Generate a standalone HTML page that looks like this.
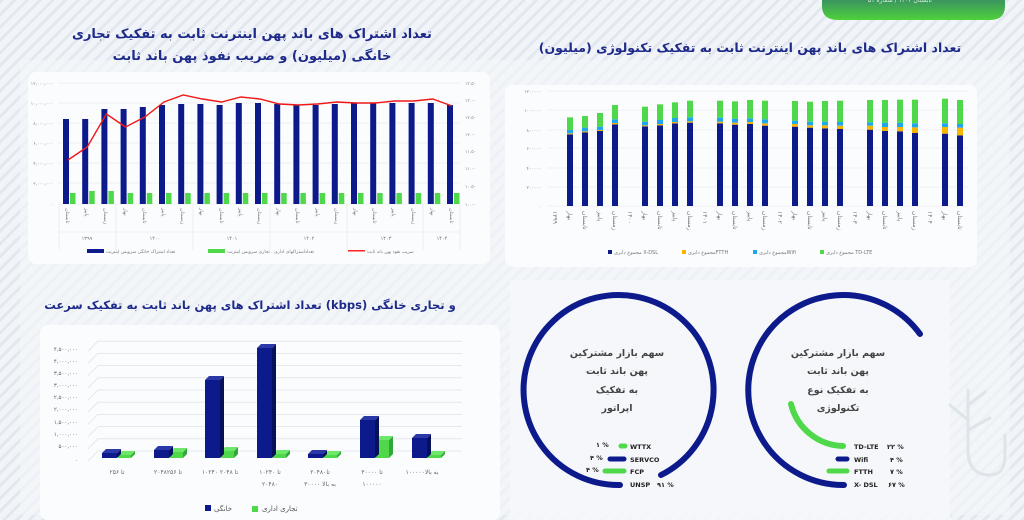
<!DOCTYPE html>
<html><head><meta charset="utf-8"><style>
html,body{margin:0;padding:0;width:1024px;height:520px;overflow:hidden;background:#f1f4f8}
svg{display:block;font-family:"DejaVu Sans","Liberation Sans",sans-serif}
</style></head><body>
<svg id="s" width="1024" height="520" viewBox="0 0 1024 520" xmlns="http://www.w3.org/2000/svg">
<defs>
<pattern id="st" width="9" height="9" patternUnits="userSpaceOnUse" patternTransform="rotate(45)">
<rect width="9" height="9" fill="#f1f4f8"/><rect width="3" height="9" fill="#e3e8ef"/></pattern>
<linearGradient id="tab" x1="0" y1="0" x2="0" y2="1"><stop offset="0" stop-color="#3a9560"/><stop offset="1" stop-color="#4fd13a"/></linearGradient>
</defs>
<rect width="1024" height="520" fill="url(#st)"/>
<rect x="20" y="60" width="990" height="455" fill="#f4f6f9" opacity="0.6"/>
<rect x="28" y="72" width="462" height="192" rx="8" fill="#fbfcfd"/>
<rect x="505" y="85" width="472" height="182" rx="8" fill="#fbfcfd"/>
<rect x="40" y="325" width="460" height="195" rx="8" fill="#fbfcfd"/>
<rect x="510" y="280" width="440" height="240" fill="#f6f8fa" opacity="0.8"/>
<path d="M822 0 H1005 V6 Q1005 20 990 20 H838 Q822 20 822 6Z" fill="url(#tab)"/>
<text x="900" y="2" font-size="6" fill="#d8f0d8" text-anchor="middle">تابستان ۱۴۰۴ / شماره ۵۱</text>

<g font-weight="bold" fill="#1e2a8a" text-anchor="middle">
<text x="252" y="38" font-size="13">تعداد اشتراک های باند پهن اینترنت ثابت به تفکیک تجاری</text>
<text x="252" y="60" font-size="13">خانگی (میلیون) و ضریب نفوذ پهن باند ثابت</text>
<text x="750" y="52" font-size="12.5">تعداد اشتراک های باند پهن اینترنت ثابت به تفکیک تکنولوژی (میلیون)</text>
<text x="250" y="309" font-size="11.5">تعداد اشتراک های پهن باند ثابت به تفکیک سرعت (kbps) و تجاری خانگی</text>
</g>
<g stroke="#e2e5ea" stroke-width="0.6">
<line x1="58" x2="460" y1="83" y2="83"/><line x1="58" x2="460" y1="103" y2="103"/><line x1="58" x2="460" y1="123" y2="123"/><line x1="58" x2="460" y1="143" y2="143"/><line x1="58" x2="460" y1="163" y2="163"/><line x1="58" x2="460" y1="183" y2="183"/><line x1="58" x2="460" y1="204" y2="204"/>
<line x1="59" x2="59" y1="204" y2="250"/><line x1="116" x2="116" y1="204" y2="250"/><line x1="193" x2="193" y1="204" y2="250"/><line x1="270" x2="270" y1="204" y2="250"/><line x1="347" x2="347" y1="204" y2="250"/><line x1="423" x2="423" y1="204" y2="250"/><line x1="460" x2="460" y1="204" y2="250"/>
<line x1="59" x2="460" y1="232" y2="232"/>
</g>
<g font-size="4.5" fill="#888" text-anchor="end">
<text x="53" y="85">۱۲,۰۰۰,۰۰۰</text><text x="53" y="105">۱۰,۰۰۰,۰۰۰</text><text x="53" y="125">۸,۰۰۰,۰۰۰</text><text x="53" y="145">۶,۰۰۰,۰۰۰</text><text x="53" y="165">۴,۰۰۰,۰۰۰</text><text x="53" y="185">۲,۰۰۰,۰۰۰</text><text x="53" y="206">۰</text>
</g>
<g font-size="4.5" fill="#888">
<text x="465" y="85">۱۳.۵۰</text><text x="465" y="102">۱۳.۰۰</text><text x="465" y="119">۱۲.۵۰</text><text x="465" y="136">۱۲.۰۰</text><text x="465" y="153">۱۱.۵۰</text><text x="465" y="170">۱۱.۰۰</text><text x="465" y="188">۱۰.۵۰</text><text x="465" y="206">۱۰.۰۰</text>
</g>
<g id="c1"></g>
<g font-size="5" fill="#777">
<text transform="translate(66,208) rotate(90)">تابستان</text>
<text transform="translate(85,208) rotate(90)">پاییز</text>
<text transform="translate(104,208) rotate(90)">زمستان</text>
<text transform="translate(124,208) rotate(90)">بهار</text>
<text transform="translate(143,208) rotate(90)">تابستان</text>
<text transform="translate(162,208) rotate(90)">پاییز</text>
<text transform="translate(181,208) rotate(90)">زمستان</text>
<text transform="translate(200,208) rotate(90)">بهار</text>
<text transform="translate(220,208) rotate(90)">تابستان</text>
<text transform="translate(239,208) rotate(90)">پاییز</text>
<text transform="translate(258,208) rotate(90)">زمستان</text>
<text transform="translate(277,208) rotate(90)">بهار</text>
<text transform="translate(296,208) rotate(90)">تابستان</text>
<text transform="translate(316,208) rotate(90)">پاییز</text>
<text transform="translate(335,208) rotate(90)">زمستان</text>
<text transform="translate(354,208) rotate(90)">بهار</text>
<text transform="translate(373,208) rotate(90)">تابستان</text>
<text transform="translate(392,208) rotate(90)">پاییز</text>
<text transform="translate(412,208) rotate(90)">زمستان</text>
<text transform="translate(431,208) rotate(90)">بهار</text>
<text transform="translate(450,208) rotate(90)">تابستان</text>
</g>
<g font-size="5" fill="#777" text-anchor="middle">
<text x="87" y="240">۱۳۹۹</text><text x="155" y="240">۱۴۰۰</text><text x="232" y="240">۱۴۰۱</text><text x="309" y="240">۱۴۰۲</text><text x="386" y="240">۱۴۰۳</text><text x="442" y="240">۱۴۰۴</text>
</g>
<rect x="87" y="249" width="17" height="4" fill="#0d1a8c"/><text x="106" y="253" font-size="4.5" fill="#777">تعداد اشتراک خانگی سرویس اینترنت</text>
<rect x="208" y="249" width="17" height="4" fill="#4fd84a"/><text x="227" y="253" font-size="4.5" fill="#777">تعداداشتراکهای اداری . تجاری سرویس اینترنت</text>
<rect x="348" y="250" width="17" height="1.5" fill="#f22"/><text x="367" y="253" font-size="4.5" fill="#777">ضریب نفوذ پهن باند ثابت</text>

<g stroke="#e2e5ea" stroke-width="0.6">
<line x1="548" x2="968" y1="91" y2="91"/><line x1="548" x2="968" y1="110" y2="110"/><line x1="548" x2="968" y1="130" y2="130"/><line x1="548" x2="968" y1="148" y2="148"/><line x1="548" x2="968" y1="168" y2="168"/><line x1="548" x2="968" y1="187" y2="187"/><line x1="548" x2="968" y1="206" y2="206"/>
</g>
<g font-size="4.5" fill="#888" text-anchor="end">
<text x="541" y="93">۱۲۰۰۰۰۰</text><text x="541" y="112">۱۰۰۰۰۰۰</text><text x="541" y="132">۸۰۰۰۰۰</text><text x="541" y="150">۶۰۰۰۰۰</text><text x="541" y="170">۴۰۰۰۰۰</text><text x="541" y="189">۲۰۰۰۰۰</text><text x="541" y="208">۰</text>
</g>
<g id="c2"></g>
<g font-size="6" fill="#777">
<text transform="translate(553,211) rotate(90)">۱۳۹۹</text>
<text transform="translate(568,211) rotate(90)">بهار</text>
<text transform="translate(583,211) rotate(90)">تابستان</text>
<text transform="translate(598,211) rotate(90)">پاییز</text>
<text transform="translate(613,211) rotate(90)">زمستان</text>
<text transform="translate(628,211) rotate(90)">۱۴۰۰</text>
<text transform="translate(643,211) rotate(90)">بهار</text>
<text transform="translate(658,211) rotate(90)">تابستان</text>
<text transform="translate(673,211) rotate(90)">پاییز</text>
<text transform="translate(688,211) rotate(90)">زمستان</text>
<text transform="translate(703,211) rotate(90)">۱۴۰۱</text>
<text transform="translate(718,211) rotate(90)">بهار</text>
<text transform="translate(733,211) rotate(90)">تابستان</text>
<text transform="translate(748,211) rotate(90)">پاییز</text>
<text transform="translate(763,211) rotate(90)">زمستان</text>
<text transform="translate(778,211) rotate(90)">۱۴۰۲</text>
<text transform="translate(793,211) rotate(90)">بهار</text>
<text transform="translate(808,211) rotate(90)">تابستان</text>
<text transform="translate(823,211) rotate(90)">پاییز</text>
<text transform="translate(838,211) rotate(90)">زمستان</text>
<text transform="translate(853,211) rotate(90)">۱۴۰۳</text>
<text transform="translate(868,211) rotate(90)">بهار</text>
<text transform="translate(883,211) rotate(90)">تابستان</text>
<text transform="translate(898,211) rotate(90)">پاییز</text>
<text transform="translate(913,211) rotate(90)">زمستان</text>
<text transform="translate(928,211) rotate(90)">۱۴۰۴</text>
<text transform="translate(943,211) rotate(90)">بهار</text>
<text transform="translate(958,211) rotate(90)">تابستان</text>
</g>
<rect x="608" y="250" width="4" height="4" fill="#0d1a8c"/><text x="614" y="254" font-size="5" fill="#777">مجموع دایری X-DSL</text>
<rect x="682" y="250" width="4" height="4" fill="#f7b500"/><text x="688" y="254" font-size="5" fill="#777">مجموع دایریFTTH</text>
<rect x="753" y="250" width="4" height="4" fill="#1ea7ef"/><text x="759" y="254" font-size="5" fill="#777">مجموع دایریWifi</text>
<rect x="820" y="250" width="4" height="4" fill="#4fd84a"/><text x="826" y="254" font-size="5" fill="#777">مجموع دایری TD-LTE</text>

<g stroke="#dfe2e7" stroke-width="0.8" fill="none" id="g3"></g>
<g font-size="5.5" fill="#666" text-anchor="end">
<text x="78" y="351">۴,۵۰۰,۰۰۰</text><text x="78" y="363">۴,۰۰۰,۰۰۰</text><text x="78" y="375">۳,۵۰۰,۰۰۰</text><text x="78" y="387">۳,۰۰۰,۰۰۰</text><text x="78" y="399">۲,۵۰۰,۰۰۰</text><text x="78" y="411">۲,۰۰۰,۰۰۰</text><text x="78" y="424">۱,۵۰۰,۰۰۰</text><text x="78" y="436">۱,۰۰۰,۰۰۰</text><text x="78" y="448">۵۰۰,۰۰۰</text><text x="78" y="462">۰</text>
</g>
<g id="c3"></g>
<g font-size="6" fill="#666" text-anchor="middle">
<text x="117" y="474">۲۵۶ تا</text>
<text x="168" y="474">۲۰۴۸تا ۲۵۶</text>
<text x="220" y="474">۱۰۲۴۰ تا ۲۰۴۸</text>
<text x="270" y="474">۱۰۲۴۰ تا</text><text x="270" y="486">۲۰۴۸۰</text>
<text x="320" y="474">۲۰۴۸۰تا</text><text x="320" y="486">۳۰۰۰۰ به بالا</text>
<text x="372" y="474">۳۰۰۰۰ تا</text><text x="372" y="486">۱۰۰۰۰۰</text>
<text x="422" y="474">۱۰۰۰۰۰به بالا</text>
</g>
<rect x="205" y="505" width="6" height="6" fill="#0d1a8c"/><text x="214" y="511" font-size="7" fill="#555">خانگی</text>
<rect x="252" y="506" width="6" height="6" fill="#4fd84a"/><text x="262" y="511" font-size="7" fill="#555">تجاری اداری</text>

<g fill="none" stroke-linecap="round">
<path d="M620 485 A95 95 0 1 1 661 475" stroke="#0d1a8c" stroke-width="6"/>
<path d="M920 334 A95 95 0 1 0 844 485" stroke="#0d1a8c" stroke-width="6"/>
<path d="M791 404 A55 55 0 0 0 843 446" stroke="#4fd84a" stroke-width="6"/>
<line x1="621" y1="446" x2="625" y2="446" stroke="#4fd84a" stroke-width="5"/>
<line x1="610" y1="459" x2="624" y2="459" stroke="#0d1a8c" stroke-width="5"/>
<line x1="605" y1="471" x2="624" y2="471" stroke="#4fd84a" stroke-width="5"/>
<line x1="838" y1="459" x2="847" y2="459" stroke="#0d1a8c" stroke-width="5"/>
<line x1="829" y1="471" x2="847" y2="471" stroke="#4fd84a" stroke-width="5"/>
</g>
<g font-size="9.5" font-weight="bold" fill="#444" text-anchor="middle">
<text x="617" y="356">سهم بازار مشترکین</text><text x="617" y="374">پهن باند ثابت</text><text x="617" y="393">به تفکیک</text><text x="617" y="411">اپراتور</text>
<text x="838" y="356">سهم بازار مشترکین</text><text x="838" y="374">پهن باند ثابت</text><text x="838" y="393">به تفکیک نوع</text><text x="838" y="411">تکنولوژی</text>
</g>
<g font-size="6.5" fill="#222" font-weight="bold">
<text x="630" y="449">WTTX</text><text x="596" y="447">۱ %</text>
<text x="630" y="462">SERVCO</text><text x="590" y="460">۴ %</text>
<text x="630" y="474">FCP</text><text x="586" y="472">۴ %</text>
<text x="630" y="487">UNSP</text><text x="657" y="487">۹۱ %</text>
<text x="854" y="449">TD-LTE</text><text x="887" y="449">۲۲ %</text>
<text x="854" y="462">Wifi</text><text x="890" y="462">۴ %</text>
<text x="854" y="474">FTTH</text><text x="890" y="474">۷ %</text>
<text x="854" y="487">X- DSL</text><text x="888" y="487">۶۷ %</text>
</g>
<g fill="none" stroke="#dfe4ea" stroke-width="3" stroke-linecap="round">
<path d="M968 390 V450 Q968 475 990 475 Q1005 475 1005 455 V435"/>
<path d="M968 420 L950 405 M968 405 L985 392 M968 430 L990 418"/>
</g>
</svg>
<script>
var NS="http://www.w3.org/2000/svg";
function el(p,t,a){var e=document.createElementNS(NS,t);for(var k in a)e.setAttribute(k,a[k]);p.appendChild(e);return e;}
var c1=document.getElementById('c1');
var bt=[119,119,109,109,107,105,104,104,105,103,103,104,105,105,104,103,103,103,103,103,105];
var rl=[160,147,114,127,117,102,95,99,102,97,99,104,105,104,102,103,103,101,101,99,106];
var pts=[];
for(var i=0;i<21;i++){var c=68+i*19.2;
el(c1,'rect',{x:c-5,y:bt[i],width:6,height:204-bt[i],fill:'#0d1a8c'});
var g=(i==1||i==2)?191:193;
el(c1,'rect',{x:c+2,y:g,width:5.5,height:204-g,fill:'#4fd84a'});
pts.push(c+','+rl[i]);}
el(c1,'polyline',{points:pts.join(' '),fill:'none',stroke:'#f01818','stroke-width':1.4});
var c2=document.getElementById('c2');
var d=[[403,400,390,352],[397,394,383,348],[393,390,380,339],[373,369,358,315],[379,376,365,320],[376,372,360,313],[370,366,354,307],[368,364,352,302],[370,365,353,302],[374,368,356,304],[372,366,355,300],[377,370,358,302],[380,372,362,303],[383,376,365,305],[385,376,365,303],[387,377,366,302],[389,377,367,300],[393,381,368,300],[394,381,368,299],[399,382,370,299],[401,381,370,296],[406,383,372,300]];
var xs=[570,585,600,615,645,660,675,690,720,735,750,765,795,810,825,840,870,885,900,915,945,960];
var col=['#0d1a8c','#f7b500','#1ea7ef','#4fd84a'];
for(var i=0;i<22;i++){var prev=618;for(var j=0;j<4;j++){var y=d[i][j];el(c2,'rect',{x:xs[i]-3,y:y/3,width:6,height:(prev-y)/3,fill:col[j]});prev=y;}}
var g3=document.getElementById('g3');
for(var k=0;k<10;k++){var y=460-k*12.2;el(g3,'polyline',{points:(88)+','+(y+1)+' '+(98)+','+(y-9)+' '+462+','+(y-9)});}
var c3=document.getElementById('c3');
var B=[[102,453,455],[154,450,452],[205,380,451],[257,348,454],[308,454,455],[360,420,440],[412,438,455]];
function bar3(x,top,w,f,s,t){var bot=458;
el(c3,'path',{d:'M'+(x+w)+' '+top+' l4 -4 V'+(bot-4)+' l-4 4Z',fill:s});
el(c3,'path',{d:'M'+x+' '+top+' l4 -4 H'+(x+w+4)+' l-4 4Z',fill:t});
el(c3,'rect',{x:x,y:top,width:w,height:bot-top,fill:f});}
B.forEach(function(b){bar3(b[0]+16,b[2],13,'#4fd84a','#33a83a','#6ee86a');bar3(b[0],b[1],15,'#0d1a8c','#07105a','#2a38a8');});
</script>
</body></html>
